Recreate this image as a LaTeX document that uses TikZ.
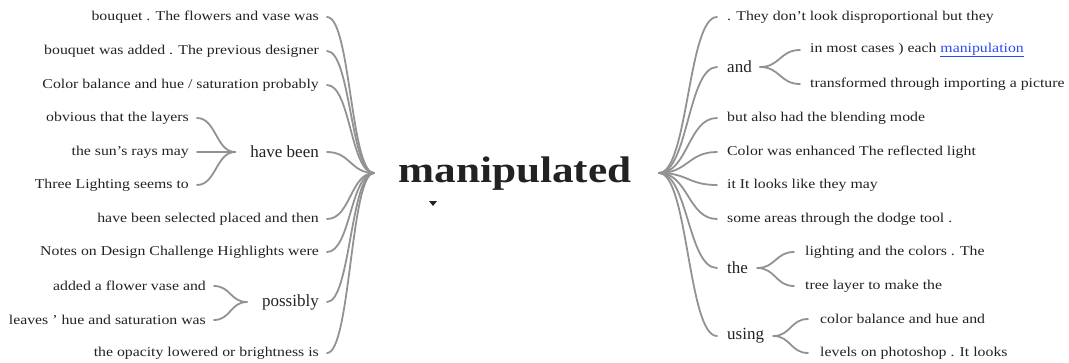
\documentclass[tikz,border=0pt]{standalone}
\usepackage{fontspec}
\setmainfont[FakeStretch=1.17]{Liberation Serif}
\newfontfamily\wtbigfont{Liberation Serif}
\usetikzlibrary{calc}
\definecolor{txt}{HTML}{222222}
\definecolor{wl}{HTML}{929292}
\definecolor{lnk}{HTML}{2A4BF0}
\newcommand\wtcurve[2]{\draw[wline] let \p1=(#1), \p2=(#2), \n1={(\x1+\x2)/2} in (\p1) .. controls (\n1,\y1) and (\n1,\y2) .. (\p2);}
\begin{document}
\begin{tikzpicture}[x=1pt,y=-1pt,
  leaf/.style={inner sep=0pt, text=txt, font=\fontsize{13.5}{13.5}\selectfont},
  big/.style={inner sep=0pt, text=txt, font=\wtbigfont\fontsize{17}{17}\selectfont},
  wline/.style={draw=wl, line width=1.8pt, line cap=round}]
\useasboundingbox (0,0) rectangle (1069,362);
% centre
\node[inner sep=0pt, text=txt, font=\fontsize{37}{37}\selectfont\bfseries] (root) at (515,174) {manipulated};
\coordinate (hubL) at (374,173);
\coordinate (hubR) at (659,173);
\fill[txt] (429,201) -- (437,201) -- (433,206) -- cycle;
% left side
\node[leaf, anchor=east] (L1) at (319,17) {bouquet . The flowers and vase was};
\node[leaf, anchor=east] (L2) at (319,51) {bouquet was added . The previous designer};
\node[leaf, anchor=east] (L3) at (319,85) {Color balance and hue / saturation probably};
\node[big, anchor=east] (HB) at (319,152) {have been};
\node[leaf, anchor=east] (HB1) at (189,118) {obvious that the layers};
\node[leaf, anchor=east] (HB2) at (189,152) {the sun’s rays may};
\node[leaf, anchor=east] (HB3) at (189,185) {Three Lighting seems to};
\node[leaf, anchor=east] (L4) at (319,219) {have been selected placed and then};
\node[leaf, anchor=east] (L5) at (319,252) {Notes on Design Challenge Highlights were};
\node[big, anchor=east] (PB) at (319,302) {possibly};
\node[leaf, anchor=east] (PB1) at (206,286) {added a flower vase and};
\node[leaf, anchor=east] (PB2) at (206,320) {leaves ’ hue and saturation was};
\node[leaf, anchor=east] (L6) at (319,353) {the opacity lowered or brightness is};
\coordinate (hbhub) at ($(HB.west)+(-15,0)$);
\coordinate (pbhub) at ($(PB.west)+(-15,0)$);
\foreach \q in {L1,L2,L3,HB,L4,L5,PB,L6} {\wtcurve{$(\q.east)+(8,0)$}{hubL}}
\foreach \q in {HB1,HB2,HB3} {\wtcurve{$(\q.east)+(8,0)$}{hbhub}}
\foreach \q in {PB1,PB2} {\wtcurve{$(\q.east)+(8,0)$}{pbhub}}
% right side
\node[leaf, anchor=west] (R1) at (727,17) {. They don’t look disproportional but they};
\node[big, anchor=west] (AND) at (727,67) {and};
\node[leaf, anchor=west] (A1) at (810,50) {in most cases ) each \textcolor{lnk}{\underline{manipulation}}};
\node[leaf, anchor=west] (A2) at (810,84) {transformed through importing a picture};
\node[leaf, anchor=west] (R2) at (727,118) {but also had the blending mode};
\node[leaf, anchor=west] (R3) at (727,152) {Color was enhanced The reflected light};
\node[leaf, anchor=west] (R4) at (727,185) {it It looks like they may};
\node[leaf, anchor=west] (R5) at (727,219) {some areas through the dodge tool .};
\node[big, anchor=west] (THE) at (727,268) {the};
\node[leaf, anchor=west] (T1) at (805,252) {lighting and the colors . The};
\node[leaf, anchor=west] (T2) at (805,286) {tree layer to make the};
\node[big, anchor=west] (US) at (727,336) {using};
\node[leaf, anchor=west] (U1) at (820,319) {color balance and hue and};
\node[leaf, anchor=west] (U2) at (820,353) {levels on photoshop . It looks};
\coordinate (andhub) at ($(AND.east)+(8,0)$);
\coordinate (thehub) at ($(THE.east)+(9,0)$);
\coordinate (ushub) at ($(US.east)+(9,0)$);
\foreach \q in {R1,AND,R2,R3,R4,R5,THE,US} {\wtcurve{hubR}{$(\q.west)+(-10,0)$}}
\foreach \q in {A1,A2} {\wtcurve{andhub}{$(\q.west)+(-10,0)$}}
\foreach \q in {T1,T2} {\wtcurve{thehub}{$(\q.west)+(-11,0)$}}
\foreach \q in {U1,U2} {\wtcurve{ushub}{$(\q.west)+(-12,0)$}}
\end{tikzpicture}
\end{document}
